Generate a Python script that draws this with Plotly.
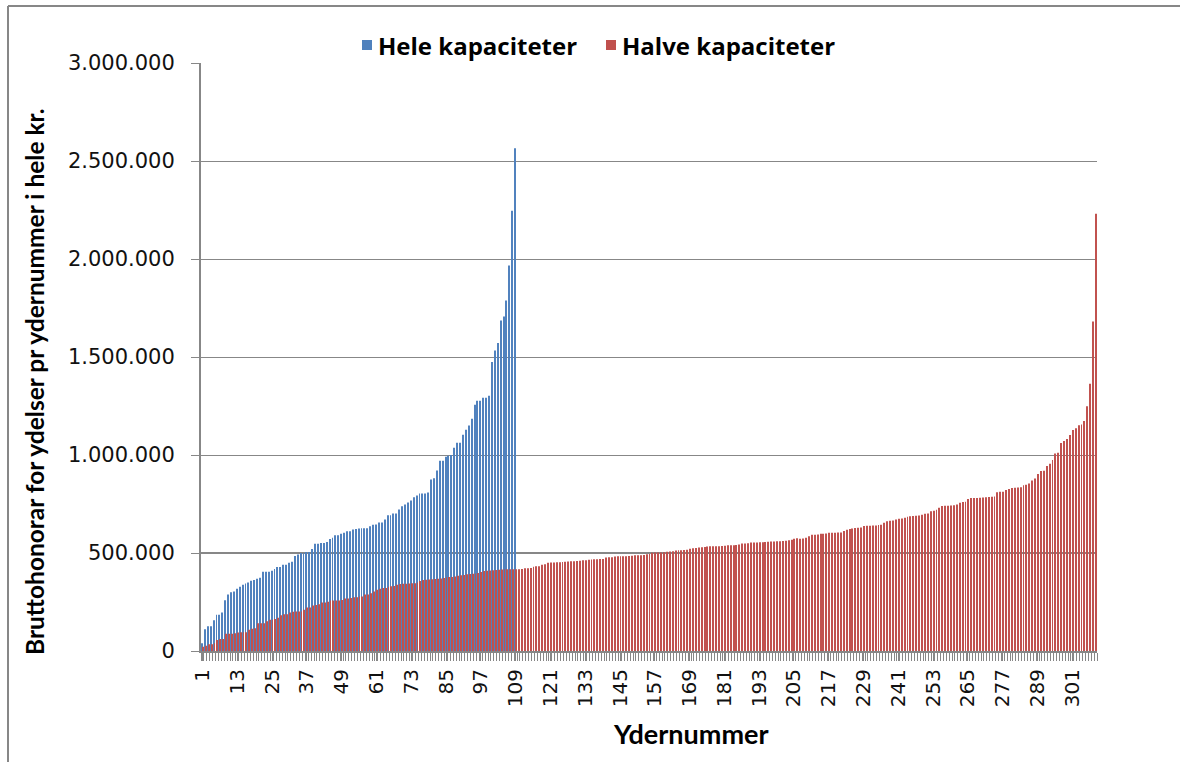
import plotly.graph_objects as go

# Bruttohonorar pr ydernummer (kr.), sorteret stigende
hele_kapaciteter = [
    40000, 111000, 126000, 126000, 157000, 185000, 185000, 197000, 259000, 288000,
    300000, 303000, 318000, 328000, 338000, 344000, 349000, 359000, 362000, 369000,
    374000, 404000, 404000, 404000, 409000, 419000, 429000, 429000, 440000, 440000,
    450000, 455000, 485000, 492000, 500000, 500000, 505000, 505000, 520000, 547000,
    547000, 551000, 551000, 556000, 571000, 578000, 591000, 591000, 598000, 603000,
    611000, 611000, 620000, 623000, 625000, 626000, 626000, 626000, 636000, 644000,
    646000, 656000, 656000, 671000, 692000, 692000, 702000, 702000, 722000, 738000,
    748000, 758000, 768000, 784000, 794000, 804000, 804000, 804000, 809000, 875000,
    881000, 921000, 971000, 971000, 991000, 996000, 1000000, 1037000, 1062000, 1062000,
    1103000, 1129000, 1151000, 1185000, 1256000, 1277000, 1277000, 1292000, 1292000, 1302000,
    1474000, 1533000, 1571000, 1686000, 1707000, 1788000, 1967000, 2246000, 2565000,
]

halve_kapaciteter = [
    22000, 27000, 35000, 35000, 39000, 56000, 61000, 61000, 88000, 88000,
    88000, 91000, 94000, 96000, 96000, 96000, 109000, 113000, 116000, 141000,
    141000, 141000, 152000, 160000, 160000, 163000, 170000, 182000, 187000, 187000,
    197000, 200000, 202000, 202000, 202000, 210000, 222000, 222000, 232000, 235000,
    239000, 248000, 248000, 251000, 258000, 258000, 258000, 258000, 260000, 268000,
    268000, 271000, 274000, 274000, 278000, 278000, 288000, 288000, 295000, 304000,
    312000, 318000, 321000, 322000, 328000, 330000, 331000, 338000, 342000, 343000,
    343000, 345000, 346000, 346000, 350000, 357000, 362000, 364000, 365000, 366000,
    367000, 368000, 370000, 373000, 376000, 377000, 378000, 380000, 384000, 386000,
    388000, 391000, 393000, 394000, 396000, 398000, 403000, 408000, 410000, 411000,
    412000, 413000, 415000, 416000, 417000, 417000, 417000, 417000, 417000, 417000,
    418000, 422000, 422000, 423000, 430000, 432000, 432000, 440000, 442000, 450000,
    452000, 452000, 453000, 453000, 454000, 455000, 457000, 458000, 458000, 459000,
    461000, 463000, 463000, 465000, 467000, 468000, 468000, 469000, 470000, 477000,
    478000, 478000, 482000, 483000, 483000, 484000, 484000, 485000, 486000, 488000,
    488000, 489000, 490000, 493000, 495000, 501000, 502000, 503000, 503000, 504000,
    506000, 508000, 509000, 513000, 514000, 514000, 515000, 517000, 522000, 524000,
    525000, 528000, 529000, 530000, 533000, 534000, 534000, 535000, 535000, 536000,
    537000, 539000, 539000, 540000, 541000, 543000, 548000, 549000, 550000, 553000,
    554000, 554000, 555000, 555000, 556000, 558000, 559000, 559000, 560000, 560000,
    561000, 562000, 565000, 568000, 573000, 575000, 573000, 574000, 578000, 586000,
    593000, 593000, 594000, 598000, 598000, 600000, 603000, 603000, 603000, 604000,
    604000, 612000, 618000, 622000, 625000, 628000, 629000, 630000, 638000, 639000,
    639000, 640000, 640000, 643000, 644000, 654000, 662000, 664000, 666000, 671000,
    675000, 676000, 680000, 685000, 687000, 689000, 690000, 691000, 695000, 700000,
    701000, 713000, 716000, 721000, 731000, 740000, 741000, 741000, 742000, 743000,
    748000, 756000, 760000, 762000, 776000, 780000, 781000, 781000, 782000, 783000,
    784000, 786000, 787000, 788000, 810000, 812000, 813000, 822000, 826000, 831000,
    833000, 834000, 836000, 846000, 848000, 855000, 870000, 880000, 903000, 918000,
    920000, 944000, 955000, 975000, 1008000, 1012000, 1061000, 1071000, 1081000, 1102000,
    1127000, 1137000, 1152000, 1155000, 1173000, 1249000, 1363000, 1681000, 2231000,
]

ydernumre_hele = list(range(1, len(hele_kapaciteter) + 1))
ydernumre_halve = list(range(1, len(halve_kapaciteter) + 1))
x_labels = list(range(1, len(halve_kapaciteter) + 1, 12))
y_labels = [0, 500000, 1000000, 1500000, 2000000, 2500000, 3000000]

GRAY = "#878787"
BLUE = "#4F81BD"
RED = "#C0504D"

fig = go.Figure()
fig.add_trace(go.Bar(x=ydernumre_hele, y=hele_kapaciteter, name="Hele kapaciteter",
                     marker=dict(color=BLUE, opacity=0.99, line=dict(width=0))))
fig.add_trace(go.Bar(x=ydernumre_halve, y=halve_kapaciteter, name="Halve kapaciteter",
                     marker=dict(color=RED, opacity=0.99, line=dict(width=0))))

# plotområde i pixels: venstre 201, højre 1097, top 63, bund 651
L, R, T, B = 201, 1097, 63, 651
W, H = 1180, 762
pw, ph = R - L, B - T


def px_x(p):
    return (p - L) / pw


def px_y(p):
    return (B - p) / ph


fig.update_layout(
    width=W, height=H,
    margin=dict(l=L, r=W - R, t=T, b=H - B, pad=0),
    paper_bgcolor="white", plot_bgcolor="white",
    separators=",.",
    barmode="group", bargap=0.36, bargroupgap=0,
    showlegend=False,
    font=dict(family="DejaVu Sans", color="black"),
)

fig.update_yaxes(
    range=[0, 3000000], tickvals=y_labels, tickformat=",d",
    showgrid=True, gridcolor=GRAY, gridwidth=1,
    showline=True, linecolor=GRAY, linewidth=2,
    ticks="outside", ticklen=8, tickcolor=GRAY, tickwidth=1,
    tickfont=dict(family="DejaVu Sans", size=21, color="#111"),
    ticklabelstandoff=12, zeroline=False,
)

fig.update_xaxes(
    range=[0.5, len(halve_kapaciteter) + 0.5], tickvals=x_labels, tickangle=-90,
    showgrid=False, zeroline=False,
    showline=True, linecolor=GRAY, linewidth=2,
    ticks="outside", ticklen=8, tickcolor=GRAY, tickwidth=1,
    minor=dict(tick0=0.5, dtick=1, ticks="outside", ticklen=8, tickcolor=GRAY, tickwidth=1, showgrid=False),
    tickfont=dict(family="DejaVu Sans", size=20, color="#111"),
)

# gitterlinjen ved 500.000 er lidt kraftigere i originalen
fig.add_hline(y=500000, line=dict(color=GRAY, width=2), layer="below")

# forklaring (legend) placeret over plottet som i originalen
legend_items = [("Hele kapaciteter", BLUE, 362), ("Halve kapaciteter", RED, 606)]
for label, color, left in legend_items:
    fig.add_shape(type="rect", xref="paper", yref="paper",
                  x0=px_x(left), x1=px_x(left + 10), y0=px_y(40), y1=px_y(50),
                  fillcolor=color, line=dict(width=0))
    fig.add_annotation(text=f"<b>{label}</b>", xref="paper", yref="paper",
                       x=px_x(left + 14), y=px_y(45), xanchor="left", yanchor="middle",
                       showarrow=False, font=dict(family="Open Sans", size=24, color="black"))

# akse-titler
fig.add_annotation(text="<b>Bruttohonorar for ydelser pr ydernummer i hele kr.</b>",
                   xref="paper", yref="paper", x=px_x(34), y=px_y(382), textangle=-90,
                   xanchor="center", yanchor="middle",
                   showarrow=False, font=dict(family="Lato", size=24.5, color="black"))
fig.add_annotation(text="<b>Ydernummer</b>",
                   xref="paper", yref="paper", x=px_x(690), y=px_y(733),
                   xanchor="center", yanchor="middle",
                   showarrow=False, font=dict(family="Lato", size=27, color="black"))

# ramme om diagramområdet
fig.add_shape(type="line", xref="paper", yref="paper", x0=px_x(8), x1=px_x(1185), y0=px_y(6), y1=px_y(6),
              line=dict(color=GRAY, width=2))
fig.add_shape(type="line", xref="paper", yref="paper", x0=px_x(8), x1=px_x(8), y0=px_y(6), y1=px_y(770),
              line=dict(color=GRAY, width=2))

fig.write_html("out.html", config={"displayModeBar": False},
               post_script="document.body.style.margin='0';")
